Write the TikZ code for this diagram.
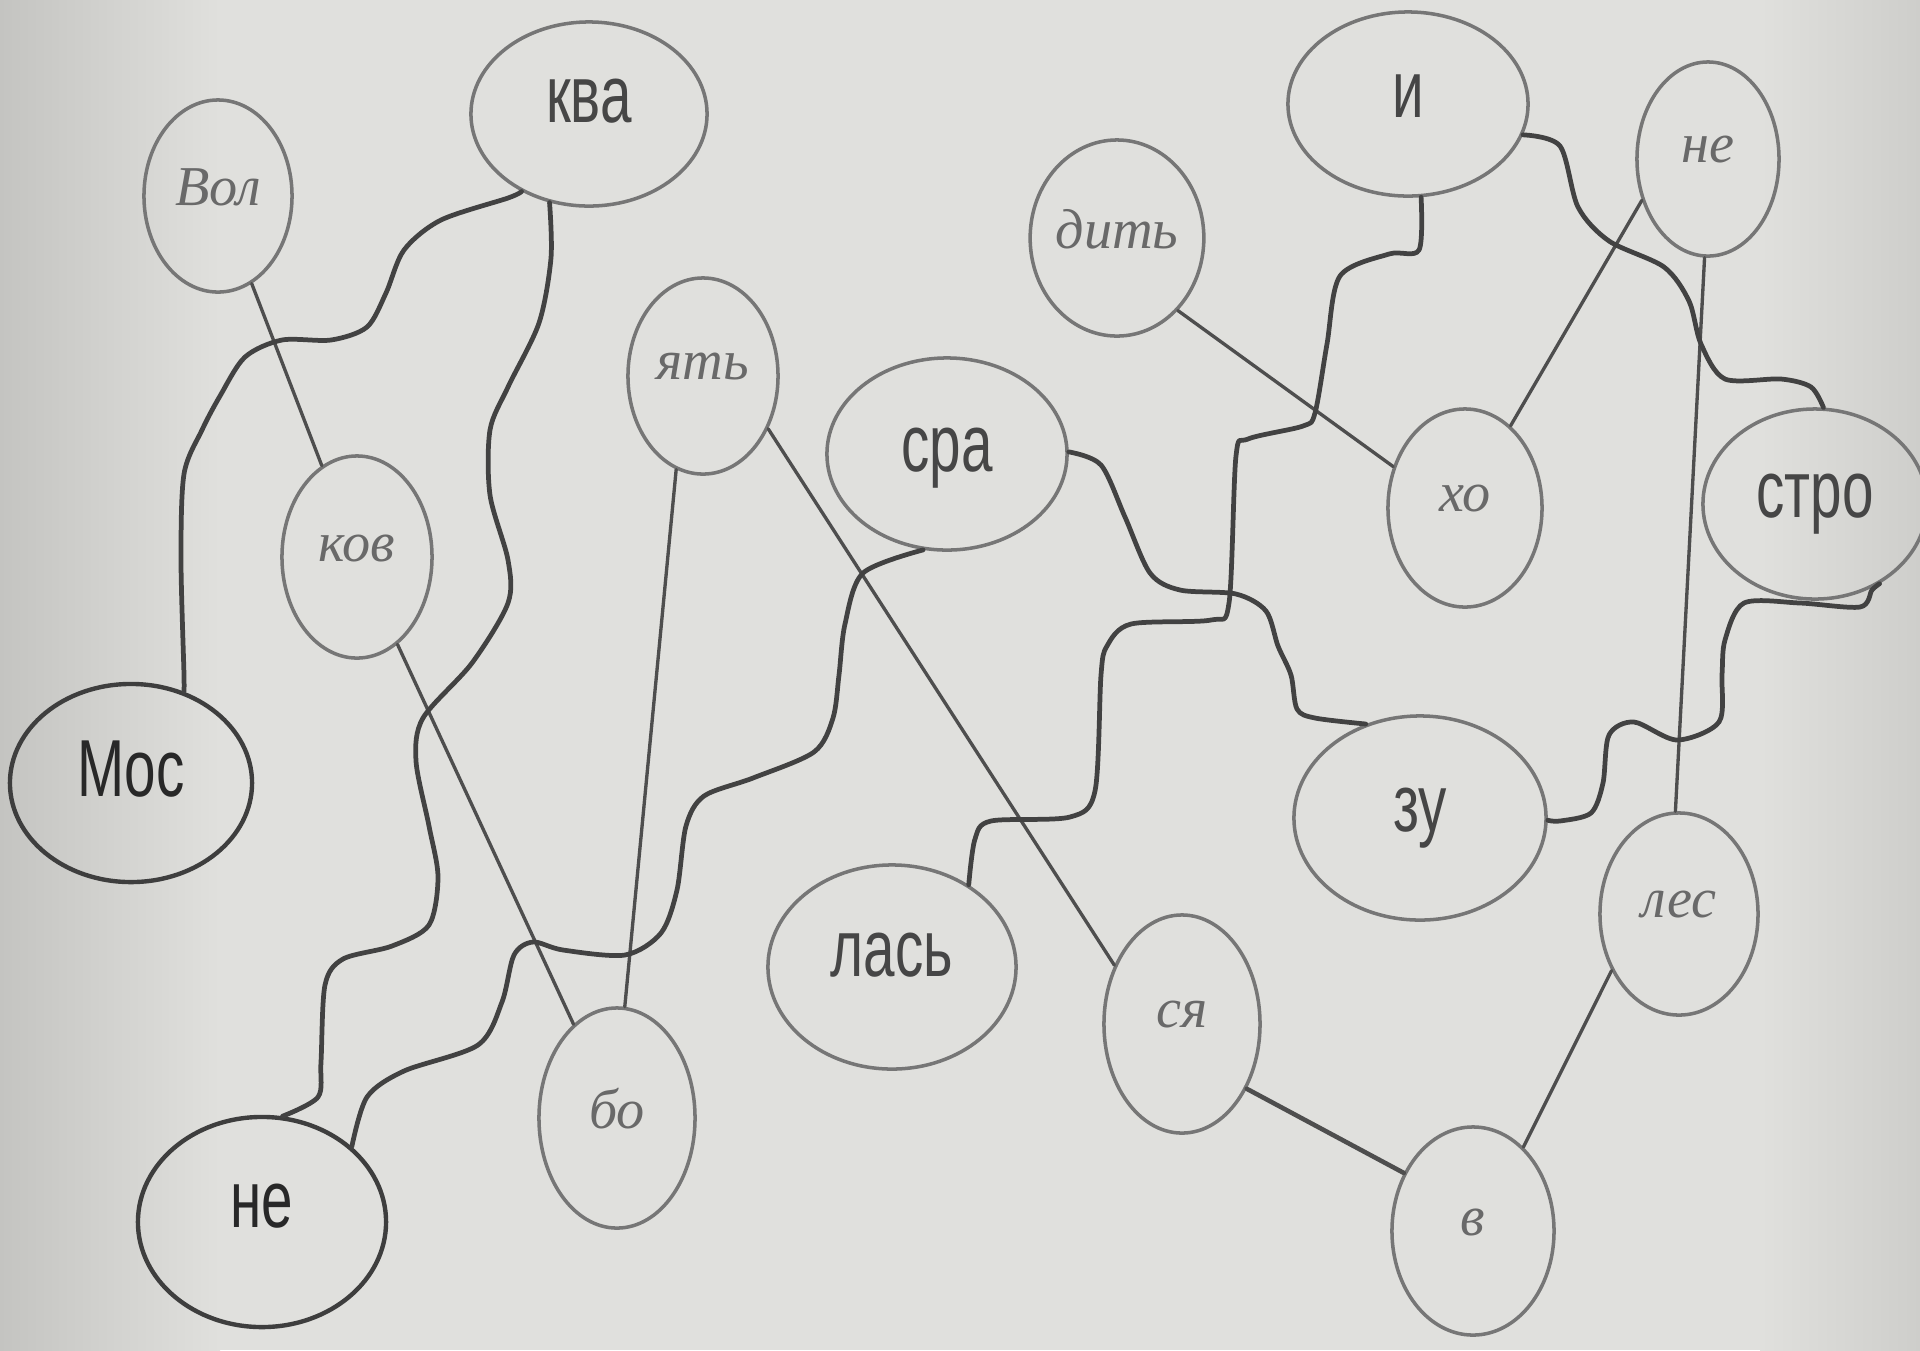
\documentclass[tikz,border=0pt]{standalone}
\usepackage{fontspec}
\usepackage{graphicx}
\usetikzlibrary{shapes.geometric}
\setmainfont{Liberation Serif}
\newfontfamily\printfont{Liberation Sans}
\newfontfamily\handfont{Liberation Serif}
\definecolor{pM}{RGB}{224,224,221}
\definecolor{pL}{RGB}{196,196,193}
\definecolor{pR}{RGB}{206,206,203}
\definecolor{ellc}{RGB}{118,118,118}
\definecolor{ellb}{RGB}{62,62,62}
\definecolor{linec}{RGB}{78,78,78}
\definecolor{wavec}{RGB}{66,66,66}
\definecolor{textc}{RGB}{70,70,70}
\definecolor{textb}{RGB}{40,40,40}
\definecolor{handc}{RGB}{105,105,105}
\newcommand{\prlabel}[2][0]{\raisebox{#1\dimexpr 0.1mm\relax}[\height][\depth]{\scalebox{0.7}[1]{\printfont\fontsize{23}{26}\selectfont #2}}}
\newcommand{\hwlabel}[1]{\raisebox{0.9mm}[\height][\depth]{\handfont\itshape\fontsize{16}{18}\selectfont #1}}
\tikzset{
  ell/.style={ellipse, draw=ellc, line width=1pt, inner sep=0pt, text=textc},
  bell/.style={ell, draw=ellb, line width=1.25pt, text=textb},
  hand/.style={ell, text=handc},
  sz/.style 2 args={minimum width={2*#1*0.1mm}, minimum height={2*#2*0.1mm}},
  thinl/.style={draw=linec, line width=0.95pt, line cap=round},
  wave/.style={draw=wavec, line width=1.35pt, line cap=round, line join=round}
}
\begin{document}
\begin{tikzpicture}[x=0.01cm, y=-0.01cm]
\useasboundingbox (0,0) rectangle (1920,1350);
% paper background
\fill[pM] (0,0) rectangle (1920,1350);
\shade[left color=pL, right color=pM] (0,0) rectangle (220,1350);
\shade[left color=pM, right color=pR] (1760,0) rectangle (1920,1350);

% proverb 1 (printed)
\node[bell, sz={121}{99}] (mos) at (131,783) {\prlabel[14]{Мос}};
\node[ell, sz={118}{92}] (kva) at (589,114) {\prlabel[13]{ква}};
\node[bell, sz={124}{105}] (neA) at (262,1222) {\prlabel[16]{не}};
\node[ell, sz={120}{96}] (sra) at (947,454) {\prlabel[-4]{сра}};
\node[ell, sz={126}{102}] (zu) at (1420,818) {\prlabel{зу}};
\node[ell, sz={112}{95}] (stro) at (1815,504) {\prlabel{стро}};
\node[ell, sz={120}{92}] (i) at (1408,104) {\prlabel[8]{и}};
\node[ell, sz={124}{102}] (las) at (892,967) {\prlabel[12]{лась}};

% proverb 2 (handwritten)
\node[hand, sz={74}{96}] (vol) at (218,196) {\hwlabel{Вол}};
\node[hand, sz={75}{101}] (kov) at (357,557) {\hwlabel{ков}};
\node[hand, sz={78}{110}] (bo) at (617,1118) {\hwlabel{бо}};
\node[hand, sz={75}{98}] (yat) at (703,376) {\hwlabel{ять}};
\node[hand, sz={78}{109}] (sya) at (1182,1024) {\hwlabel{ся}};
\node[hand, sz={81}{104}] (v) at (1473,1231) {\hwlabel{в}};
\node[hand, sz={79}{101}] (les) at (1679,914) {\hwlabel{лес}};
\node[hand, sz={71}{97}] (neB) at (1708,159) {\hwlabel{не}};
\node[hand, sz={77}{99}] (xo) at (1465,508) {\hwlabel{хо}};
\node[hand, sz={73}{98}] (dit) at (1117,238) {\hwlabel{дить}};

% straight connectors
\draw[thinl] (vol) -- (kov);
\draw[thinl] (kov) -- (bo);
\draw[thinl] (bo.86) -- (yat.-106);
\draw[thinl] (yat.-39) -- (sya.139);
\draw[thinl, line width=1.3pt] (sya.-45) -- (v.140);
\draw[thinl] (v.59) -- (les.-140);
\draw[thinl] (les.92) -- (neB.-92);
\draw[thinl] (neB.-148) -- (xo.61);
\draw[thinl] (xo.150) -- (dit.-50);

% wavy connectors
\draw[wave] plot[smooth] coordinates {(mos.60) (184,675) (181,560) (184,474) (202,430) (220,396) (245,357) (282,340) (331,340) (367,327) (386,293) (404,250) (441,220) (508,198) (kva.-131)};
\draw[wave] plot[smooth] coordinates {(kva.-114) (551,258) (539,323) (508,387) (490,430) (490,495) (508,560) (508,603) (472,663) (423,718) (416,761) (429,826) (438,877) (429,925) (392,946) (343,959) (325,985) (321,1062) (318,1097) (neA.79)};
\draw[wave] plot[smooth] coordinates {(sra.-104) (863,573) (845,624) (839,675) (833,718) (814,752) (753,778) (704,796) (686,826) (677,890) (661,933) (625,955) (563,950) (533,942) (514,955) (502,1002) (478,1045) (404,1071) (367,1097) (neA.40)};
\draw[wave] plot[smooth] coordinates {(sra.1) (1101,465) (1125,517) (1150,573) (1180,590) (1236,594) (1266,611) (1278,646) (1291,675) (1297,709) (1315,718) (zu.120)};
\draw[wave] plot[smooth] coordinates {(zu.-1) (1560,821) (1591,813) (1603,783) (1609,735) (1634,722) (1677,740) (1719,722) (1722,675) (1725,640) (1744,603) (1800,603) (1860,607) (1872,590) (stro.-51)};
\draw[wave] plot[smooth] coordinates {(i.-15) (1560,146) (1578,207) (1609,241) (1664,267) (1689,301) (1701,344) (1725,379) (1781,379) (1811,387) (stro.85)};
\draw[wave] plot[smooth] coordinates {(i.-82) (1419,250) (1389,254) (1340,276) (1327,344) (1315,413) (1303,426) (1248,439) (1236,456) (1229,603) (1211,620) (1131,624) (1107,646) (1101,675) (1095,791) (1070,817) (991,821) (975,839) (las.47)};
\end{tikzpicture}
\end{document}
